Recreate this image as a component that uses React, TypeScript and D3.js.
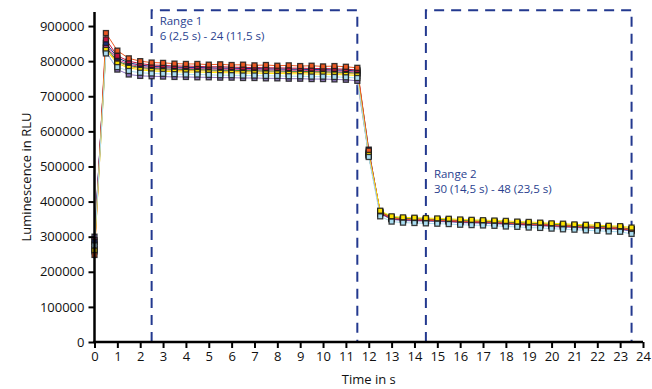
import React, { useEffect, useRef } from 'react';
import * as d3 from 'd3';

// Time points (s): measurement n is taken at (n - 1) * 0.5 s
const times: number[] = [
  0, 0.5, 1, 1.5, 2, 2.5, 3, 3.5, 4, 4.5, 5, 5.5, 6, 6.5, 7, 7.5, 8, 8.5, 9, 9.5, 10, 10.5, 11, 11.5,
  12, 12.5, 13, 13.5, 14, 14.5, 15, 15.5, 16, 16.5, 17, 17.5, 18, 18.5, 19, 19.5, 20, 20.5, 21, 21.5,
  22, 22.5, 23, 23.5,
];

// Luminescence values in thousands of RLU
const seriesPurple = [300, 828, 776, 762, 758, 757, 756, 755, 755, 754, 754, 753, 753, 752, 752, 751, 751, 750, 750, 749, 749, 748, 747, 744, 532, 365, 349, 346, 345, 344, 343, 342, 340, 339, 338, 337, 335, 334, 332, 331, 329, 327, 326, 324, 323, 322, 320, 316];
const seriesLightBlue = [275, 822, 783, 772, 767, 765, 764, 763, 762, 762, 761, 760, 760, 759, 759, 758, 758, 757, 757, 756, 756, 755, 754, 752, 527, 358, 343, 340, 339, 338, 337, 336, 334, 333, 332, 331, 329, 328, 326, 325, 323, 321, 320, 318, 317, 315, 314, 308];
const seriesYellow = [262, 832, 793, 781, 775, 772, 771, 770, 769, 769, 768, 767, 767, 766, 766, 765, 765, 764, 764, 763, 763, 762, 761, 759, 533, 374, 358, 355, 354, 353, 352, 351, 349, 348, 347, 346, 345, 343, 342, 340, 338, 337, 335, 334, 333, 331, 330, 326];
const seriesOrange = [258, 836, 797, 785, 779, 776, 775, 774, 773, 773, 772, 771, 771, 770, 770, 769, 769, 768, 768, 767, 767, 766, 765, 763, 538, 372, 355, 352, 351, 350, 349, 348, 346, 345, 344, 343, 341, 340, 339, 337, 335, 334, 332, 331, 330, 328, 327, 322];
const seriesGreen = [280, 840, 800, 788, 782, 779, 778, 777, 776, 776, 775, 774, 774, 773, 773, 772, 772, 771, 771, 770, 770, 769, 768, 766, 530, 371, 355, 352, 351, 350, 349, 348, 346, 345, 344, 343, 341, 340, 338, 337, 335, 333, 332, 330, 329, 328, 326, 321];
const seriesMagenta = [290, 845, 805, 791, 785, 782, 781, 780, 779, 779, 778, 777, 777, 776, 776, 775, 775, 774, 774, 773, 773, 772, 771, 769, 535, 368, 352, 349, 348, 347, 346, 345, 343, 342, 341, 340, 338, 337, 335, 334, 332, 330, 329, 327, 326, 325, 323, 319];
const seriesNavy = [285, 852, 810, 795, 789, 785, 784, 783, 782, 782, 781, 780, 780, 779, 779, 778, 778, 777, 777, 776, 776, 775, 774, 772, 548, 367, 351, 348, 347, 346, 345, 344, 342, 341, 340, 339, 337, 336, 334, 333, 331, 330, 328, 327, 325, 324, 322, 318];
const seriesCrimson = [265, 862, 815, 800, 793, 789, 788, 786, 786, 785, 784, 784, 783, 782, 782, 781, 781, 780, 780, 779, 779, 778, 777, 775, 540, 368, 352, 349, 348, 347, 346, 345, 343, 342, 341, 340, 338, 337, 335, 334, 332, 330, 329, 327, 326, 325, 323, 319];
const seriesOrangeRed = [248, 880, 830, 808, 800, 796, 795, 793, 792, 792, 790, 791, 789, 790, 788, 789, 787, 788, 786, 787, 785, 786, 784, 781, 545, 370, 353, 350, 349, 348, 347, 346, 344, 343, 342, 341, 339, 338, 336, 335, 333, 331, 330, 328, 327, 326, 324, 320];

// drawing order: later entries sit on top
const series = [
  { values: seriesPurple, color: '#8e76bd' },
  { values: seriesOrange, color: '#f5a21e' },
  { values: seriesGreen, color: '#2e7d3a' },
  { values: seriesMagenta, color: '#d9418f' },
  { values: seriesNavy, color: '#1c2f7e' },
  { values: seriesCrimson, color: '#c2143f' },
  { values: seriesOrangeRed, color: '#ec5a24' },
  { values: seriesYellow, color: '#fce300' },
  { values: seriesLightBlue, color: '#a9dcf0' },
];

const yTicks = [0, 100000, 200000, 300000, 400000, 500000, 600000, 700000, 800000, 900000];
const xTicks = [0, 1, 2, 3, 4, 5, 6, 7, 8, 9, 10, 11, 12, 13, 14, 15, 16, 17, 18, 19, 20, 21, 22, 23, 24];

// Evaluation ranges (start s, end s, top in RLU) and their labels
const ranges = [
  { start: 2.5, end: 11.5, top: 945000, title: 'Range 1', detail: '6 (2,5 s) - 24 (11,5 s)', labelY: 25 },
  { start: 14.5, end: 23.5, top: 945000, title: 'Range 2', detail: '30 (14,5 s) - 48 (23,5 s)', labelY: 178 },
];

const W = 652;
const H = 389;
const FONT = '"Open Sans", "DejaVu Sans", sans-serif';

const App: React.FC = () => {
  const ref = useRef<SVGSVGElement>(null);

  useEffect(() => {
    const svg = d3.select(ref.current);
    svg.selectAll('*').remove();

    const x = d3.scaleLinear().domain([0, 24]).range([94.5, 643]);
    const y = d3.scaleLinear().domain([0, 940000]).range([342, 12]);

    const g = svg.append('g');

    // dashed range boxes (no bottom edge)
    ranges.forEach((r) => {
      const x1 = x(r.start);
      const x2 = x(r.end);
      const yt = y(r.top);
      g.append('path')
        .attr('d', `M${x1},${y(0)}V${yt}H${x2}V${y(0)}`)
        .attr('fill', 'none')
        .attr('stroke', '#23398f')
        .attr('stroke-width', 2)
        .attr('stroke-dasharray', '10,7');

      const label = g
        .append('text')
        .attr('x', x1 + 8)
        .attr('y', r.labelY)
        .attr('fill', '#2a3f8f')
        .attr('font-family', FONT)
        .attr('font-size', '11.5px');
      label.append('tspan').attr('x', x1 + 8).text(r.title);
      label.append('tspan').attr('x', x1 + 8).attr('dy', 15).text(r.detail);
    });

    const line = d3
      .line<number>()
      .x((_d, i) => x(times[i]))
      .y((d) => y(d * 1000));

    // lines first
    series.forEach((s) => {
      g.append('path')
        .datum(s.values)
        .attr('d', line)
        .attr('fill', 'none')
        .attr('stroke', s.color)
        .attr('stroke-width', 1);
    });

    // square markers
    const size = 5;
    series.forEach((s) => {
      g.selectAll(null)
        .data(s.values)
        .enter()
        .append('rect')
        .attr('x', (_d, i) => x(times[i]) - size / 2)
        .attr('y', (d) => y(d * 1000) - size / 2)
        .attr('width', size)
        .attr('height', size)
        .attr('fill', s.color)
        .attr('stroke', '#1a1a1a')
        .attr('stroke-opacity', 0.85)
        .attr('stroke-width', 1.3);
    });

    // axes
    const xAxis = d3
      .axisBottom(x)
      .tickValues(xTicks)
      .tickSize(6)
      .tickSizeOuter(0)
      .tickPadding(4)
      .tickFormat(d3.format('d'));
    const yAxis = d3
      .axisLeft(y)
      .tickValues(yTicks)
      .tickSize(6)
      .tickSizeOuter(0)
      .tickPadding(4)
      .tickFormat(d3.format('d'));

    const gx = svg.append('g').attr('transform', `translate(0,${y(0)})`).call(xAxis);
    const gy = svg.append('g').attr('transform', `translate(${x(0)},0)`).call(yAxis);

    [gx, gy].forEach((ax) => {
      ax.select('.domain').attr('stroke', '#000').attr('stroke-width', 2.5);
      ax.selectAll('.tick line').attr('stroke', '#000').attr('stroke-width', 2);
      ax.selectAll('.tick text')
        .attr('fill', '#111')
        .attr('font-family', FONT)
        .attr('font-size', '13px');
    });
    gx.select('.domain').attr('d', `M${x(0) - 1.25},0H${x(24)}`);
    gy.select('.domain').attr('d', `M0,${y(0)}V${y(940000)}`);

    // axis titles
    svg
      .append('text')
      .attr('x', (x(0) + x(24)) / 2)
      .attr('y', 384)
      .attr('text-anchor', 'middle')
      .attr('fill', '#111')
      .attr('font-family', FONT)
      .attr('font-size', '13px')
      .text('Time in s');

    svg
      .append('text')
      .attr('transform', `translate(31,${(y(0) + y(940000)) / 2}) rotate(-90)`)
      .attr('text-anchor', 'middle')
      .attr('fill', '#111')
      .attr('font-family', FONT)
      .attr('font-size', '13px')
      .text('Luminescence in RLU');

    return () => {
      svg.selectAll('*').remove();
    };
  }, []);

  return (
    <svg
      ref={ref}
      width={W}
      height={H}
      style={{ position: 'absolute', left: 0, top: 0, background: '#fff' }}
    />
  );
};

export default App;
